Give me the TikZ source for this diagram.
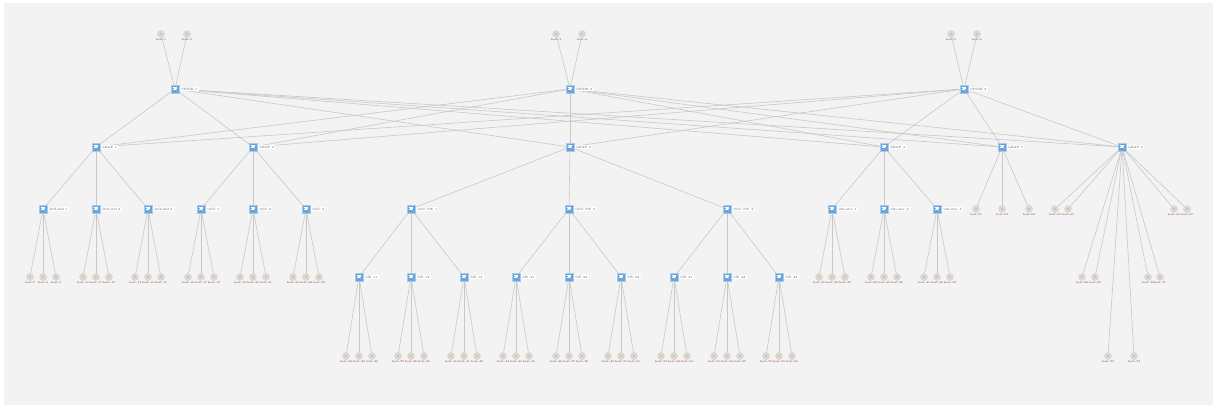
\documentclass[tikz,border=0pt]{standalone}
\usetikzlibrary{calc}
\pgfdeclarelayer{bg}
\pgfdeclarelayer{edges}
\pgfsetlayers{bg,edges,main}
\definecolor{bgc}{HTML}{F3F3F3}
\definecolor{swfill}{HTML}{6AA3DA}
\definecolor{swdraw}{HTML}{A9CBEB}
\definecolor{hostfill}{HTML}{DCDBD0}
\definecolor{hostdraw}{HTML}{CFCEC3}
\definecolor{hostin}{HTML}{C4C3B6}
\definecolor{linkc}{HTML}{C8C8C8}
\definecolor{lblc}{HTML}{555555}
\definecolor{hlblc}{HTML}{8A2550}
\newcount\hc
\hc=0
\tikzset{
  sw/.style={rectangle, fill=swfill, draw=swdraw, line width=0.5pt, minimum size=8pt, inner sep=0pt,
    path picture={
      \draw[white, line width=0.25pt] ($(path picture bounding box.center)+(-2.2pt,1.6pt)$) -- ++(4.4pt,-3.2pt);
      \draw[white, line width=0.25pt] ($(path picture bounding box.center)+(-2.4pt,-0.6pt)$) -- ++(3pt,0pt);
      \draw[white, line width=0.25pt] ($(path picture bounding box.center)+(-0.6pt,0.6pt)$) -- ++(3pt,0pt);
      \draw[white, line width=0.25pt] ($(path picture bounding box.center)+(-1.8pt,2.2pt)$) -- ++(3.6pt,0pt);
    }},
  swlbl/.style={fill=white, text=lblc, font=\fontsize{3.1}{3.4}\selectfont, inner xsep=1.2pt, inner ysep=1.3pt, label distance=0.6pt},
  host/.style={circle, fill=hostfill, draw=hostdraw, line width=0.3pt, minimum size=7pt, inner sep=0pt,
    path picture={\fill[hostin] (path picture bounding box.center) circle (1.3pt);}},
  hlbl/.style={text=hlblc, font=\fontsize{2.8}{3}\selectfont, inner sep=0.3pt, label distance=0.2pt},
  link/.style={draw=linkc, line width=0.6pt}
}
\newcommand\swat[4]{% name, x, y, text
  \node[sw, label={[swlbl]right:#4}] (#1) at (#2,#3) {};}
\newcommand\hostat[4]{% name, x, y, parent
  \global\advance\hc by 1
  \node[host, label={[hlbl]below:{host-\the\hc}}] (#1) at (#2,#3) {};
  \begin{pgfonlayer}{edges}\draw[link] (#4.center) -- (#1.center);\end{pgfonlayer}}
\newcommand\linkto[2]{\begin{pgfonlayer}{edges}\draw[link] (#1.center) -- (#2.center);\end{pgfonlayer}}
\begin{document}
\begin{tikzpicture}[x=1pt,y=-1pt]
\useasboundingbox (0,0) rectangle (1213,405);
\begin{pgfonlayer}{bg}
\fill[white] (0,0) rectangle (1213,405);
\fill[bgc] (4,3) rectangle (1213,405);
\end{pgfonlayer}
% spines
\swat{sp1}{175}{89}{SPINE 1}
\swat{sp2}{570}{89}{SPINE 2}
\swat{sp3}{964}{89}{SPINE 3}
% top hosts
\hostat{t1}{161}{34}{sp1}
\hostat{t2}{187}{34}{sp1}
\hostat{t3}{556}{34}{sp2}
\hostat{t4}{582}{34}{sp2}
\hostat{t5}{951}{34}{sp3}
\hostat{t6}{977}{34}{sp3}
% leaves
\swat{lf1}{96}{147}{LEAF 1}
\swat{lf2}{253}{147}{LEAF 2}
\swat{lf3}{570}{147}{LEAF 3}
\swat{lf4}{884}{147}{LEAF 4}
\swat{lf5}{1002}{147}{LEAF 5}
\swat{lf6}{1122}{147}{LEAF 6}
\foreach \s in {sp1,sp2,sp3}{\foreach \l in {lf1,lf2,lf3,lf4,lf5,lf6}{\linkto{\s}{\l}}}
% level 3
\foreach \n/\x/\t/\p in {d1/43/DSLAM 1/lf1, d2/96/DSLAM 2/lf1, d3/148/DSLAM 3/lf1,
  o1/201/OLT 1/lf2, o2/253/OLT 2/lf2, o3/306/OLT 3/lf2,
  os1/411/OLT SW 1/lf3, os2/569/OLT SW 2/lf3, os3/727/OLT SW 3/lf3,
  v1/832/vRouter 1/lf4, v2/884/vRouter 2/lf4, v3/937/vRouter 3/lf4}{
  \swat{\n}{\x}{209}{\t}
  \linkto{\p}{\n}
}
% hosts under DSLAM / OLT / vRouter
\foreach \n/\x in {d1/43,d2/96,d3/148,o1/201,o2/253,o3/306,v1/832,v2/884,v3/937}{
  \hostat{\n a}{\x-13}{277}{\n}
  \hostat{\n b}{\x}{277}{\n}
  \hostat{\n c}{\x+13}{277}{\n}
}
% SW level
\foreach \n/\x/\t/\p in {w11/359/SW 11/os1, w12/411/SW 12/os1, w13/464/SW 13/os1,
  w21/516/SW 21/os2, w22/569/SW 22/os2, w23/621/SW 23/os2,
  w31/674/SW 31/os3, w32/727/SW 32/os3, w33/779/SW 33/os3}{
  \swat{\n}{\x}{277}{\t}
  \linkto{\p}{\n}
}
\foreach \n/\x in {w11/359,w12/411,w13/464,w21/516,w22/569,w23/621,w31/674,w32/727,w33/779}{
  \hostat{\n a}{\x-13}{356}{\n}
  \hostat{\n b}{\x}{356}{\n}
  \hostat{\n c}{\x+13}{356}{\n}
}
% LEAF 5 hosts
\hostat{l5a}{976}{209}{lf5}
\hostat{l5b}{1002}{209}{lf5}
\hostat{l5c}{1029}{209}{lf5}
% LEAF 6 hosts
\hostat{l6a}{1055}{209}{lf6}
\hostat{l6b}{1068}{209}{lf6}
\hostat{l6c}{1174}{209}{lf6}
\hostat{l6d}{1187}{209}{lf6}
\hostat{l6e}{1082}{277}{lf6}
\hostat{l6f}{1095}{277}{lf6}
\hostat{l6g}{1148}{277}{lf6}
\hostat{l6h}{1160}{277}{lf6}
\hostat{l6i}{1108}{356}{lf6}
\hostat{l6j}{1134}{356}{lf6}
\end{tikzpicture}
\end{document}
